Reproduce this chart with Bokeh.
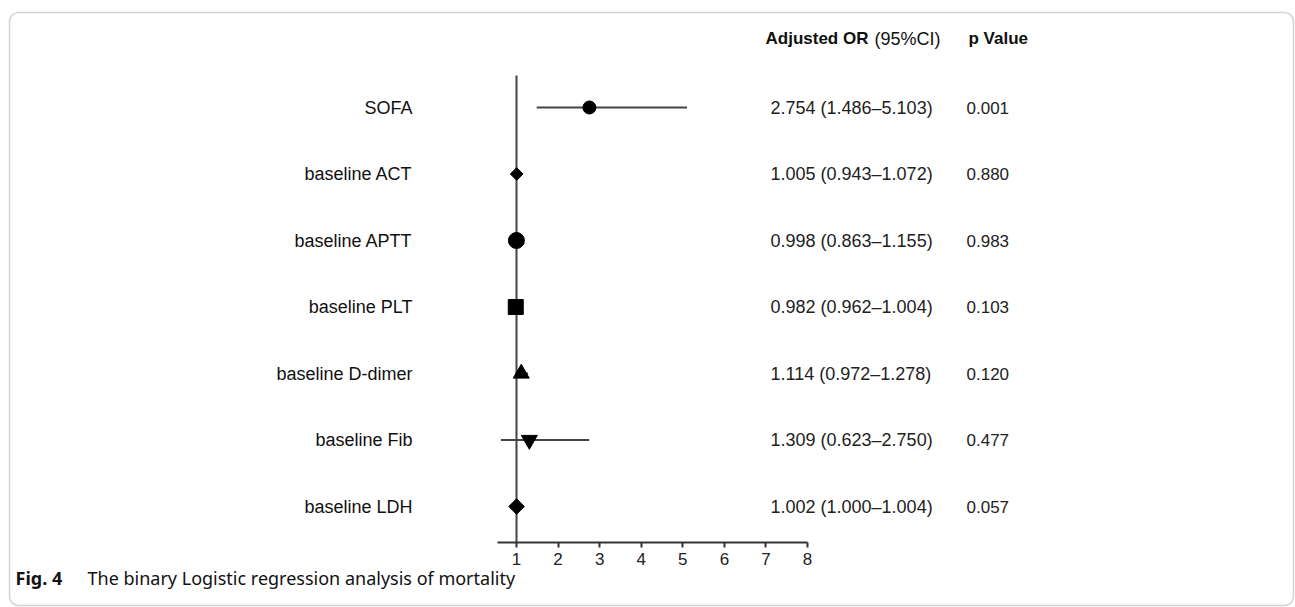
from bokeh.plotting import figure
from bokeh.models import LinearAxis, FixedTicker, BoxAnnotation, Range1d
from bokeh.core.properties import value
from bokeh.embed import file_html
from bokeh.resources import INLINE
import math

# ---- data ----
labels = ["SOFA", "baseline ACT", "baseline APTT", "baseline PLT",
          "baseline D-dimer", "baseline Fib", "baseline LDH"]
odds = [2.754, 1.005, 0.998, 0.982, 1.114, 1.309, 1.002]
ci_low = [1.486, 0.943, 0.863, 0.962, 0.972, 0.623, 1.000]
ci_high = [5.103, 1.072, 1.155, 1.004, 1.278, 2.750, 1.004]
p_values = ["0.001", "0.880", "0.983", "0.103", "0.120", "0.477", "0.057"]
x_ticks = [1, 2, 3, 4, 5, 6, 7, 8]

# ---- styles ----
marker_styles = [("circle", 13, 0.0), ("square", 9, math.pi / 4), ("circle", 16, 0.0),
                 ("square", 15, 0.0), ("triangle", 16, 0.0),
                 ("inverted_triangle", 16, 0.0), ("square", 11, math.pi / 4)]

W, H = 1295, 607
# pixel <-> data mapping (frame covers whole canvas)
X1_PX, X8_PX = 516.0, 807.0
XS = (X8_PX - X1_PX) / 7.0
TOP_ROW_PX, BOT_ROW_PX = 107.0, 506.0
n = len(labels)
YS = (BOT_ROW_PX - TOP_ROW_PX) / (n - 1)


def px2x(px):
    return 1 + (px - X1_PX) / XS


def py2y(py):
    return 1 + (BOT_ROW_PX - py) / YS


rows = [n - i for i in range(n)]
or_text = [f"{o:.3f} ({l:.3f}\u2013{h:.3f})" for o, l, h in zip(odds, ci_low, ci_high)]

p = figure(width=W, height=H, output_backend="svg", toolbar_location=None,
           x_range=Range1d(px2x(0), px2x(W)), y_range=Range1d(py2y(H), py2y(0)),
           min_border=0, x_axis_type=None, y_axis_type=None)
p.outline_line_color = None
p.xgrid.visible = False
p.ygrid.visible = False
p.background_fill_color = "white"
p.border_fill_color = "white"

# rounded frame
p.add_layout(BoxAnnotation(left=px2x(9), right=px2x(1293), top=py2y(12), bottom=py2y(605),
                           fill_alpha=0, line_color="#707070", line_width=1.5,
                           border_radius=9))

axis_y = py2y(542)
# null line at OR = 1
p.segment(x0=[1], y0=[axis_y], x1=[1], y1=[py2y(75)], line_color="#444444", line_width=2)

# confidence intervals
p.segment(x0=ci_low, y0=rows, x1=ci_high, y1=rows, line_color="#444444", line_width=2)

# point estimates
for i in range(n):
    mk, sz, ang = marker_styles[i]
    p.scatter(x=[odds[i]], y=[rows[i]], marker=mk, size=sz, angle=ang,
              fill_color="black", line_color="black")

font = value("Liberation Sans")
p.text(x=[px2x(412)] * n, y=rows, text=labels, text_align="right", text_baseline="middle",
       text_font=font, text_font_size="18px", text_color="#111111")
p.text(x=[px2x(770)] * n, y=rows, text=or_text, text_align="left", text_baseline="middle",
       text_font=font, text_font_size="18px", text_color="#222222")
p.text(x=[px2x(966)] * n, y=rows, text=p_values, text_align="left", text_baseline="middle",
       text_font=font, text_font_size="17px", text_color="#222222")

hy = py2y(38)
p.text(x=[px2x(765)], y=[hy], text=["Adjusted OR"], text_align="left", text_baseline="middle",
       text_font=font, text_font_size="17px", text_font_style="bold", text_color="#111111")
p.text(x=[px2x(874)], y=[hy], text=["(95%CI)"], text_align="left", text_baseline="middle",
       text_font=font, text_font_size="18px", text_color="#111111")
p.text(x=[px2x(968)], y=[hy], text=["p Value"], text_align="left", text_baseline="middle",
       text_font=font, text_font_size="17px", text_font_style="bold", text_color="#111111")

# caption
cy = py2y(577)
p.text(x=[px2x(15)], y=[cy], text=["Fig. 4"], text_align="left", text_baseline="middle",
       text_font=value("Noto Sans"), text_font_size="18px", text_font_style="bold",
       text_color="#111111")
p.text(x=[px2x(87)], y=[cy], text=["The binary Logistic regression analysis of mortality"],
       text_align="left", text_baseline="middle",
       text_font=value("Noto Sans"), text_font_size="18px", text_color="#111111")

# x axis
ax = LinearAxis(ticker=FixedTicker(ticks=x_ticks), fixed_location=axis_y,
                bounds=(px2x(497), 8))
ax.axis_line_width = 2
ax.axis_line_color = "#333333"
ax.major_tick_line_width = 2
ax.major_tick_line_color = "#333333"
ax.major_tick_out = 5
ax.major_tick_in = 0
ax.minor_tick_out = 0
ax.minor_tick_in = 0
ax.major_label_standoff = 5
ax.major_label_text_font = "Liberation Sans"
ax.major_label_text_font_size = "17px"
ax.major_label_text_color = "#222222"
p.add_layout(ax, "below")

open("out.html", "w").write(file_html(p, INLINE))
